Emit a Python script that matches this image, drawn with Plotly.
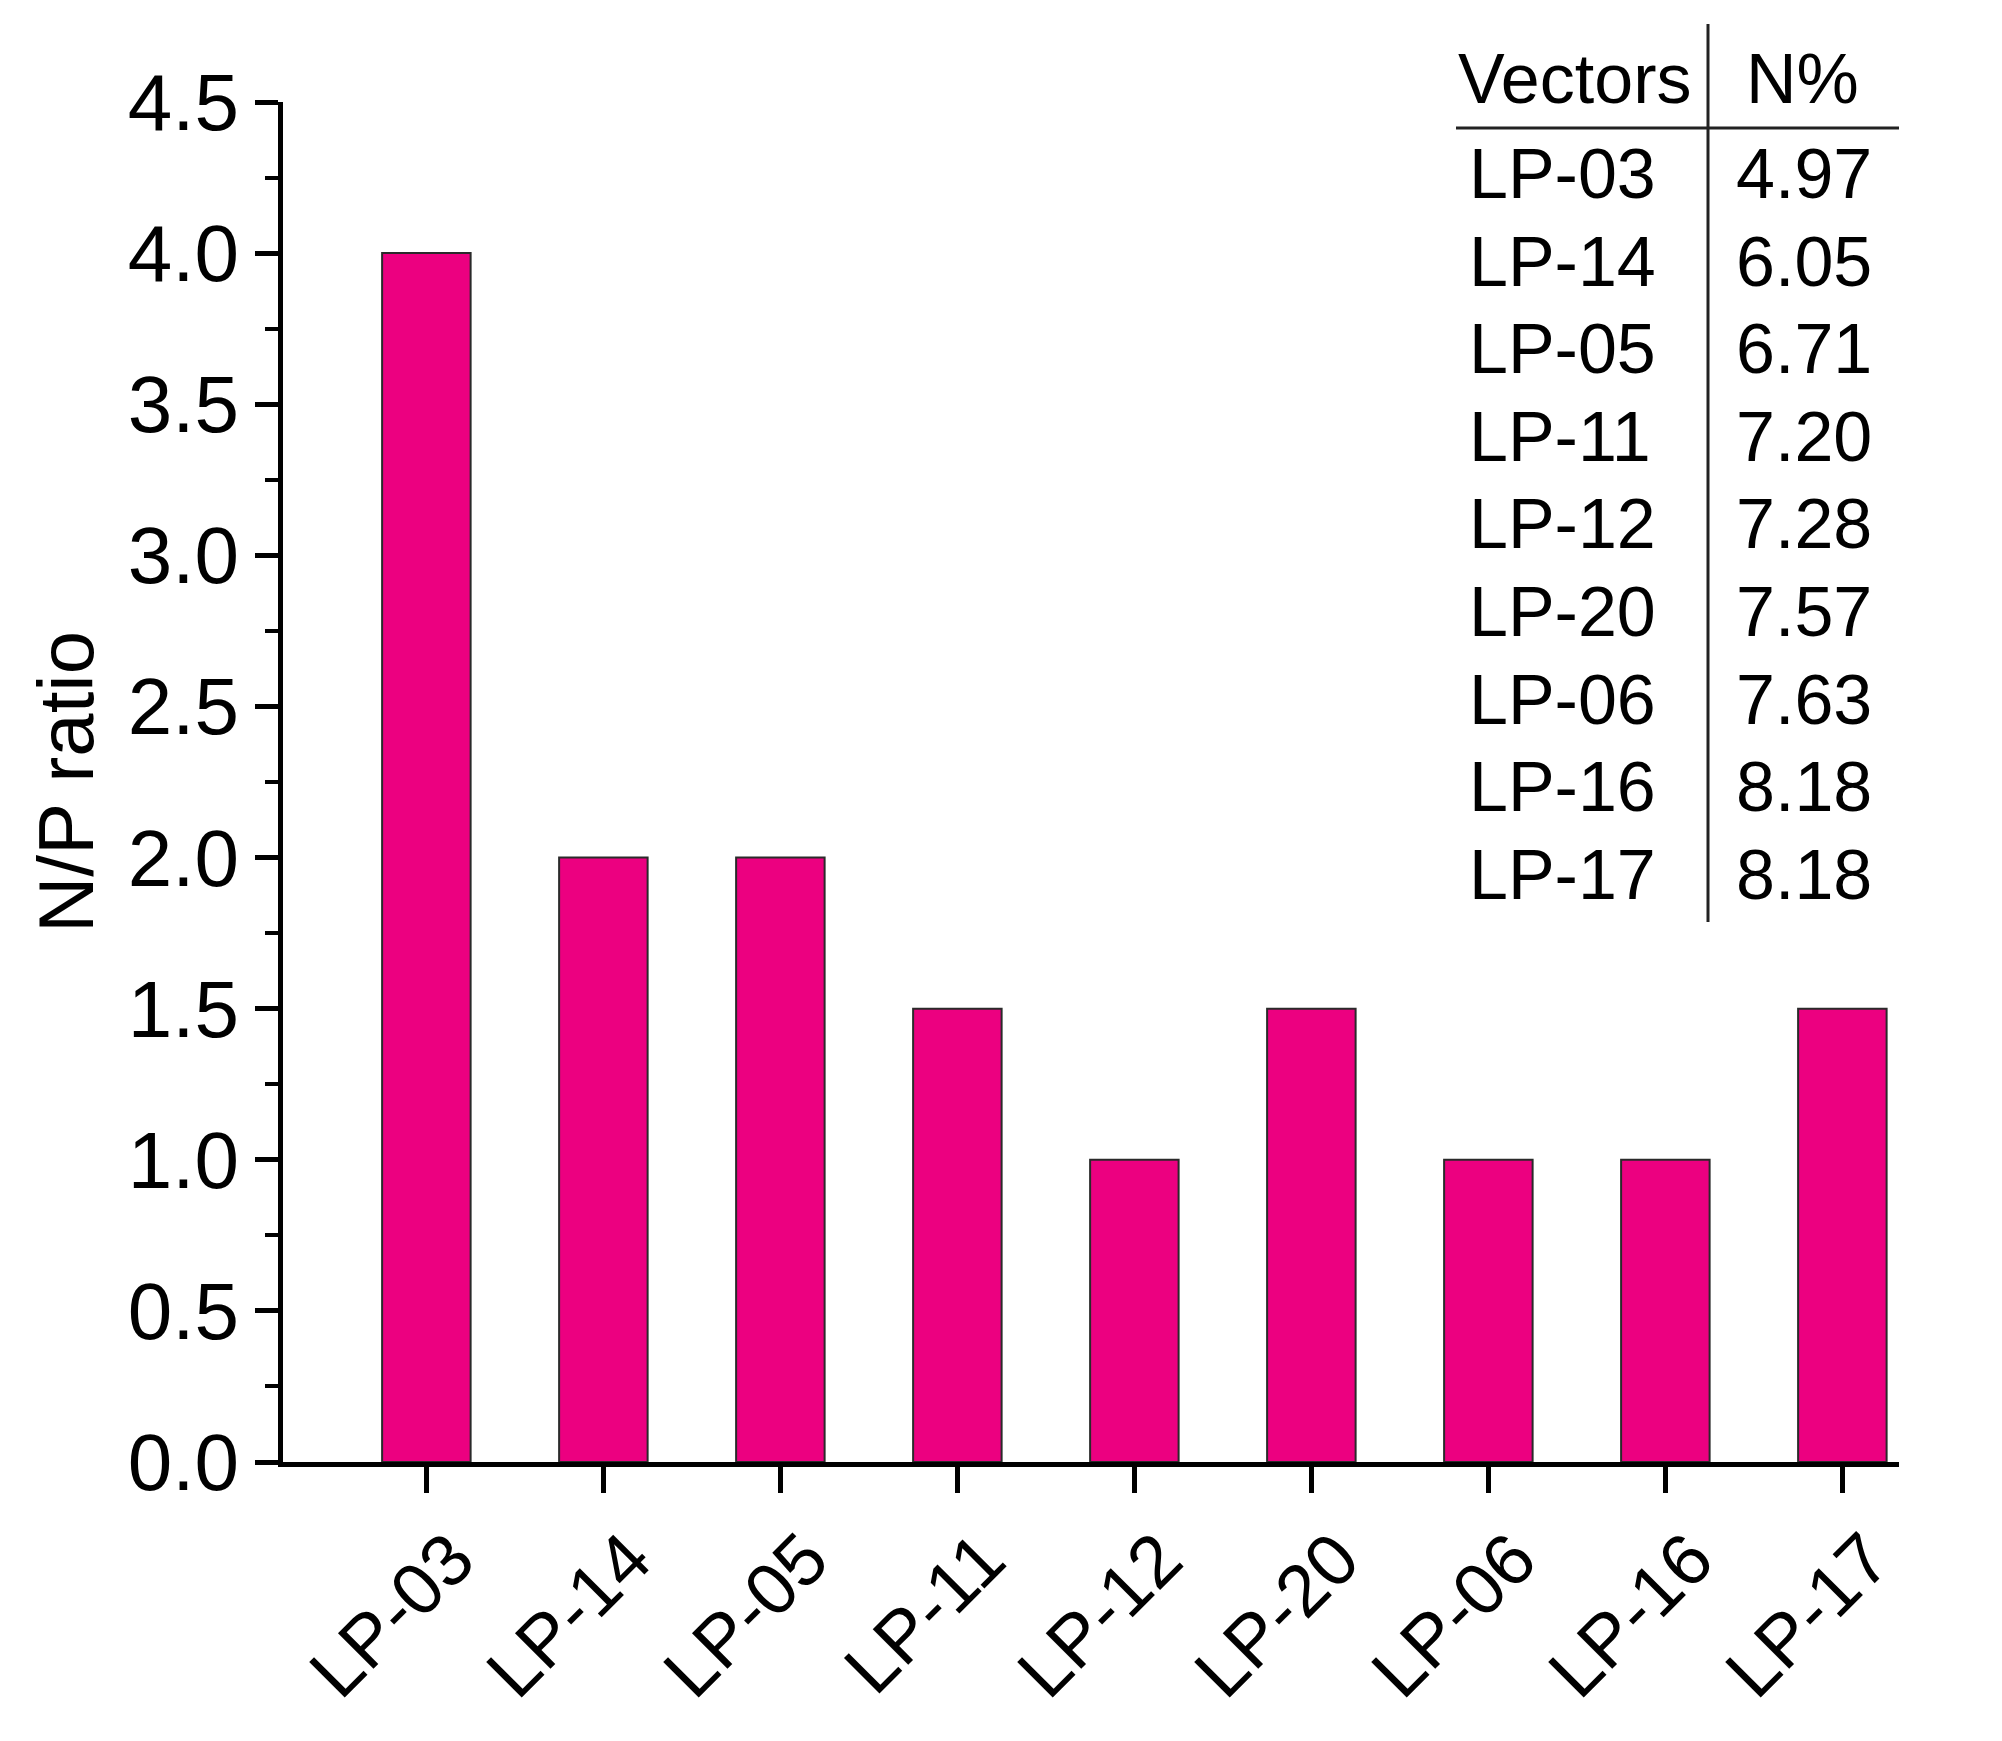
import plotly.graph_objects as go

# ---- data ----
vectors = ["LP-03", "LP-14", "LP-05", "LP-11", "LP-12", "LP-20", "LP-06", "LP-16", "LP-17"]
np_ratio = [4.0, 2.0, 2.0, 1.5, 1.0, 1.5, 1.0, 1.0, 1.5]
table_vectors = ["LP-03", "LP-14", "LP-05", "LP-11", "LP-12", "LP-20", "LP-06", "LP-16", "LP-17"]
table_n_percent = ["4.97", "6.05", "6.71", "7.20", "7.28", "7.57", "7.63", "8.18", "8.18"]

# ---- layout geometry (pixels) ----
W, H = 2002, 1741
L, R, T, B = 275, 111, 94, 287
PW, PH = W - L - R, H - T - B
FONT = "Arial, Liberation Sans, sans-serif"


def px(x):
    return (x - L) / PW


def py(y):
    return (H - B - y) / PH


fig = go.Figure()
fig.add_trace(go.Bar(
    x=vectors, y=np_ratio, width=0.5,
    marker=dict(color="#EC0080", line=dict(color="#2a2a2a", width=2)),
    showlegend=False,
))

axis_common = dict(
    showline=True, linecolor="black", linewidth=5,
    ticks="outside", tickcolor="black", tickwidth=5,
    showgrid=False, zeroline=False,
)

fig.update_xaxes(
    **axis_common,
    type="category", range=[-0.81, 8.32], ticklen=26, tickangle=-45,
    tickfont=dict(family=FONT, size=73, color="black"),
    ticklabelshift=26, ticklabelstandoff=-6,
)
fig.update_yaxes(
    **axis_common,
    range=[0, 4.5], dtick=0.5, tickformat=".1f", ticklen=23,
    tickfont=dict(family=FONT, size=80, color="black"),
    minor=dict(dtick=0.25, ticks="outside", ticklen=13, tickwidth=4, tickcolor="black"),
    title=dict(text="N/P ratio", font=dict(family=FONT, size=78, color="black"), standoff=10),
)

# ---- inset table ----
annotations = []
shapes = []
fs = 70
annotations.append(dict(x=px(1448), y=py(71), xref="paper", yref="paper", text="Vectors",
                        showarrow=False, xanchor="left", yanchor="middle",
                        font=dict(family=FONT, size=fs, color="black")))
annotations.append(dict(x=px(1736), y=py(71), xref="paper", yref="paper", text="N%",
                        showarrow=False, xanchor="left", yanchor="middle",
                        font=dict(family=FONT, size=fs, color="black")))
for i, (v, n) in enumerate(zip(table_vectors, table_n_percent)):
    yy = py(166 + i * 87.6)
    annotations.append(dict(x=px(1459), y=yy, xref="paper", yref="paper", text=v,
                            showarrow=False, xanchor="left", yanchor="middle",
                            font=dict(family=FONT, size=fs, color="black")))
    annotations.append(dict(x=px(1726), y=yy, xref="paper", yref="paper", text=n,
                            showarrow=False, xanchor="left", yanchor="middle",
                            font=dict(family=FONT, size=fs, color="black")))

shapes.append(dict(type="line", xref="paper", yref="paper",
                   x0=px(1700), x1=px(1700), y0=py(16), y1=py(914),
                   line=dict(color="#222", width=3)))
shapes.append(dict(type="line", xref="paper", yref="paper",
                   x0=px(1448), x1=px(1891), y0=py(120), y1=py(120),
                   line=dict(color="#222", width=3)))

fig.update_layout(
    width=W, height=H,
    margin=dict(l=L, r=R, t=T, b=B),
    plot_bgcolor="white", paper_bgcolor="white",
    annotations=annotations, shapes=shapes,
    bargap=0.5,
)

fig.write_html("out.html")
